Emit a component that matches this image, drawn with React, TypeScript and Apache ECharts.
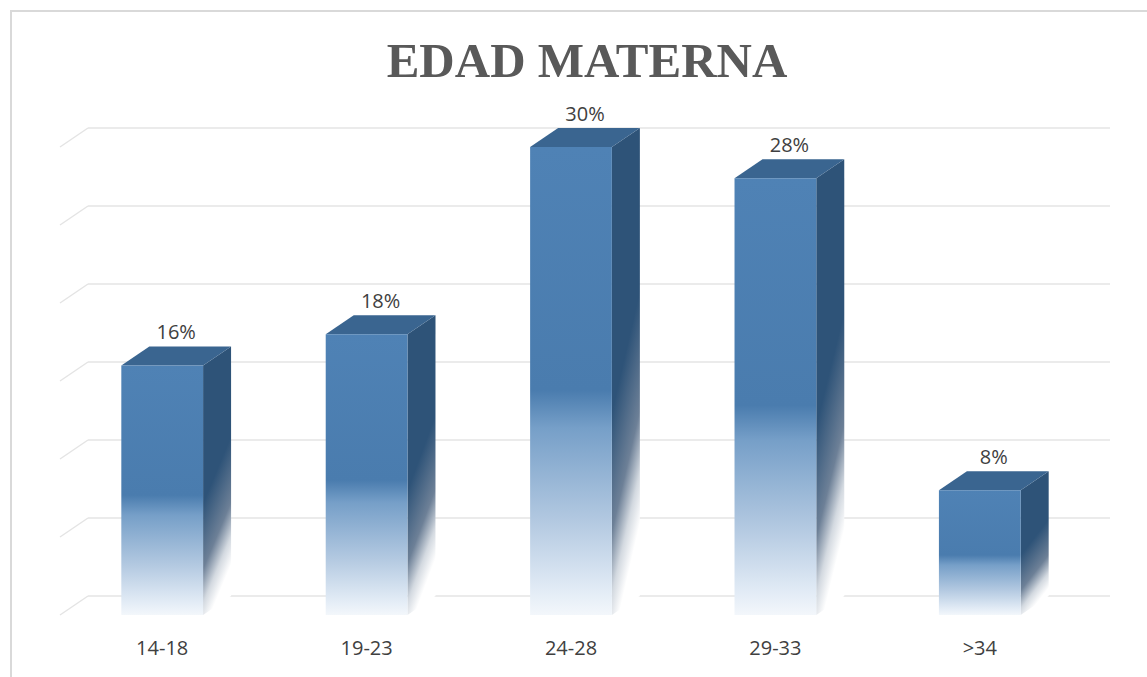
import React, { useEffect, useRef } from "react";
import * as echarts from "echarts";

// Age groups and share of mothers (%)
const categories = ["14-18", "19-23", "24-28", "29-33", ">34"];
const percentages = [16, 18, 30, 28, 8];
// Back-wall gridline values
const gridTicks = [0, 5, 10, 15, 20, 25, 30];

// 3D depth offset between the front face and the back wall
const DEPTH_X = 28;
const DEPTH_Y = 19;

const GRID_COLOR = "#e4e4e4";
const LABEL_COLOR = "#404040";
const SANS = "'Open Sans', 'Liberation Sans', sans-serif";

export default function App() {
  const ref = useRef<HTMLDivElement>(null);

  useEffect(() => {
    const chart = echarts.init(ref.current!, null, { renderer: "svg" });

    const grad = (x2: number, y2: number, stops: [number, string][]) =>
      new echarts.graphic.LinearGradient(
        0,
        0,
        x2,
        y2,
        stops.map(([offset, color]) => ({ offset, color }))
      );

    chart.setOption({
      animation: false,
      backgroundColor: "#ffffff",
      graphic: [
        {
          type: "rect",
          silent: true,
          shape: { x: 11, y: 11, width: 1200, height: 720 },
          style: { fill: "none", stroke: "#d9d9d9", lineWidth: 2 },
        },
        {
          type: "text",
          x: 587,
          y: 60,
          style: {
            text: "EDAD MATERNA",
            align: "center",
            verticalAlign: "middle",
            fill: "#595959",
            fontFamily: "'Liberation Serif', 'DejaVu Serif', serif",
            fontWeight: "bold",
            fontSize: 49,
          },
        },
      ],
      grid: [
        // back wall
        { left: 88, right: 37, top: 128, bottom: 81 },
        // front plane
        { left: 60, right: 65, top: 147, bottom: 62 },
      ],
      xAxis: [
        { gridIndex: 0, type: "category", data: categories, show: false },
        {
          gridIndex: 1,
          type: "category",
          data: categories,
          axisLine: { show: false },
          axisTick: { show: false },
          axisLabel: {
            color: LABEL_COLOR,
            fontSize: 20,
            fontFamily: SANS,
            margin: 22,
          },
        },
      ],
      yAxis: [
        {
          gridIndex: 0,
          type: "value",
          min: 0,
          max: 30,
          interval: 5,
          axisLabel: { show: false },
          axisLine: { show: false },
          axisTick: { show: false },
          splitLine: { lineStyle: { color: GRID_COLOR, width: 1.5 } },
        },
        { gridIndex: 1, type: "value", min: 0, max: 30, interval: 5, show: false },
      ],
      series: [
        {
          // side-wall gridline stubs
          type: "custom",
          xAxisIndex: 0,
          yAxisIndex: 0,
          silent: true,
          encode: { x: 0, y: 1 },
          data: gridTicks.map((v) => [0, v]),
          renderItem: (params: any, api: any) => {
            const y = api.coord([0, api.value(1)])[1];
            const x = params.coordSys.x;
            return {
              type: "line",
              shape: { x1: x, y1: y, x2: x - DEPTH_X, y2: y + DEPTH_Y },
              style: { stroke: GRID_COLOR, lineWidth: 1.5 },
            };
          },
          z: 1,
        },
        {
          // 3D bars
          type: "custom",
          xAxisIndex: 1,
          yAxisIndex: 1,
          encode: { x: 0, y: 1 },
          data: percentages.map((v, i) => [i, v]),
          renderItem: (params: any, api: any) => {
            const value = api.value(1);
            const top = api.coord([api.value(0), value]);
            const base = api.coord([api.value(0), 0]);
            const bw = api.size([1, 0])[0] * 0.4;
            const x0 = top[0] - bw / 2;
            const x1 = top[0] + bw / 2;
            const yT = top[1];
            const yB = base[1];
            return {
              type: "group",
              children: [
                {
                  type: "polygon",
                  shape: {
                    points: [
                      [x1, yT],
                      [x1 + DEPTH_X, yT - DEPTH_Y],
                      [x1 + DEPTH_X, yB - DEPTH_Y],
                      [x1, yB],
                    ],
                  },
                  style: {
                    fill: grad(0.25, 1, [
                      [0, "#2e5378"],
                      [0.55, "#2e5378"],
                      [0.78, "#6d8097"],
                      [0.9, "#d3d9e0"],
                      [1, "#ffffff"],
                    ]),
                  },
                },
                {
                  type: "polygon",
                  shape: {
                    points: [
                      [x0, yT],
                      [x0 + DEPTH_X, yT - DEPTH_Y],
                      [x1 + DEPTH_X, yT - DEPTH_Y],
                      [x1, yT],
                    ],
                  },
                  style: { fill: "#3a6590" },
                },
                {
                  type: "rect",
                  shape: { x: x0, y: yT, width: bw, height: yB - yT },
                  style: {
                    fill: grad(0, 1, [
                      [0, "#4f82b5"],
                      [0.52, "#4a7cae"],
                      [0.6, "#769fc8"],
                      [0.8, "#b3c9e1"],
                      [0.95, "#e3ecf6"],
                      [1, "#f3f7fb"],
                    ]),
                  },
                },
                {
                  type: "text",
                  x: (x0 + x1 + DEPTH_X) / 2,
                  y: yT - DEPTH_Y - 15,
                  style: {
                    text: value + "%",
                    align: "center",
                    verticalAlign: "middle",
                    fill: LABEL_COLOR,
                    fontSize: 20,
                    fontFamily: SANS,
                  },
                },
              ],
            };
          },
          z: 2,
        },
      ],
    });

    return () => chart.dispose();
  }, []);

  return (
    <div
      ref={ref}
      style={{ position: "fixed", left: 0, top: 0, width: 1147, height: 677 }}
    />
  );
}
